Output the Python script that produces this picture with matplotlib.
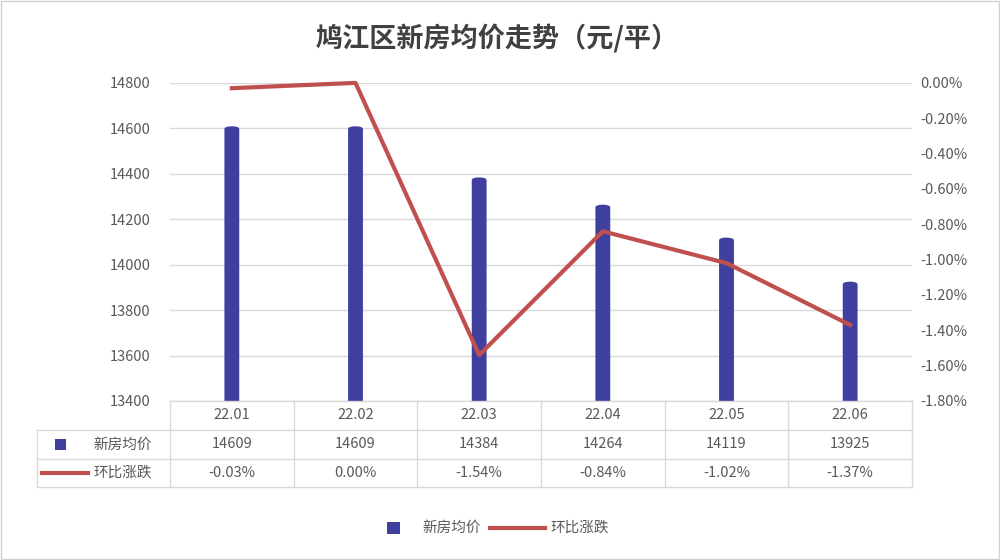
import matplotlib
matplotlib.use("Agg")
import matplotlib.pyplot as plt
from matplotlib.patches import FancyBboxPatch, Rectangle
from matplotlib.lines import Line2D

plt.rcParams["font.family"] = ["Noto Sans CJK SC", "DejaVu Sans"]

title = "鸠江区新房均价走势（元/平）"
categories = ["22.01", "22.02", "22.03", "22.04", "22.05", "22.06"]
prices = [14609, 14609, 14384, 14264, 14119, 13925]
changes = [-0.03, 0.00, -1.54, -0.84, -1.02, -1.37]
s1_name = "新房均价"
s2_name = "环比涨跌"

bar_c = "#3f3f9f"
line_c = "#c0504d"
grid_c = "#d9d9d9"
txt_c = "#595959"

fig = plt.figure(figsize=(10, 5.6), dpi=100)
fig.patches.append(Rectangle((0.001, 0.001), 0.998, 0.998, transform=fig.transFigure,
                             fill=False, ec="#d0d0d0", lw=1))
fig.text(0.497, 0.932, title, ha="center", va="center", fontsize=19.5, fontweight="bold", color="#404040")

L, R, B, T = 0.17, 0.912, 0.284, 0.852
ax = fig.add_axes([L, B, R - L, T - B])
ax.set_ylim(13400, 14800)
ax.set_xlim(-0.5, len(categories) - 0.5)
ax.set_yticks(range(13400, 14801, 200))
ax.tick_params(axis="y", length=0, labelsize=10.5, labelcolor=txt_c, pad=14)
ax.set_xticks([])
ax.grid(axis="y", color=grid_c, lw=1)
ax.set_axisbelow(True)
for s in ax.spines.values():
    s.set_visible(False)

w = 0.12
for i, v in enumerate(prices):
    ax.add_patch(FancyBboxPatch((i - w / 2, 13300), w, v - 13300,
                                boxstyle="round,pad=0,rounding_size=0.06",
                                mutation_aspect=200, fc=bar_c, ec="none", zorder=2))

ax2 = ax.twinx()
ax2.set_ylim(-1.8, 0.0)
ax2.set_yticks([-1.8 + 0.2 * k for k in range(10)])
ax2.set_yticklabels([f"{-1.8 + 0.2 * k:.2f}%".replace("-0.00", "0.00") for k in range(10)])
ax2.tick_params(axis="y", length=0, labelsize=10.5, labelcolor=txt_c, pad=6)
for s in ax2.spines.values():
    s.set_visible(False)
ax2.plot(range(len(changes)), changes, color=line_c, lw=3, zorder=3, clip_on=False)

# data table
rows_y = [B, B - 29 / 560, B - 58 / 560, B - 86 / 560]
xl = 37 / 1000
cw = (R - L) / len(categories)
tl = dict(color=grid_c, lw=1)
for y in rows_y:
    x0 = L if y == rows_y[0] else xl
    fig.add_artist(Line2D([x0, R], [y, y], transform=fig.transFigure, **tl))
for k in range(len(categories) + 1):
    fig.add_artist(Line2D([L + k * cw] * 2, [rows_y[0], rows_y[3]], transform=fig.transFigure, **tl))
fig.add_artist(Line2D([xl, xl], [rows_y[1], rows_y[3]], transform=fig.transFigure, **tl))

def mid(a, b):
    return (a + b) / 2

for i, c in enumerate(categories):
    xc = L + (i + 0.5) * cw
    fig.text(xc, mid(rows_y[0], rows_y[1]), c, ha="center", va="center", fontsize=10.5, color=txt_c)
    fig.text(xc, mid(rows_y[1], rows_y[2]), str(prices[i]), ha="center", va="center", fontsize=10.5, color=txt_c)
    fig.text(xc, mid(rows_y[2], rows_y[3]), f"{changes[i]:.2f}%", ha="center", va="center", fontsize=10.5, color=txt_c)

y1 = mid(rows_y[1], rows_y[2]); y2 = mid(rows_y[2], rows_y[3])
fig.patches.append(Rectangle((0.055, y1 - 0.009), 0.011, 0.018, transform=fig.transFigure, fc=bar_c, ec="none"))
fig.text(0.093, y1, s1_name, ha="left", va="center", fontsize=10.5, color=txt_c)
fig.add_artist(Line2D([0.042, 0.088], [y2, y2], transform=fig.transFigure, color=line_c, lw=3))
fig.text(0.093, y2, s2_name, ha="left", va="center", fontsize=10.5, color=txt_c)

# legend
ly = 1 - 528 / 560
fig.patches.append(Rectangle((0.387, ly - 0.011), 0.013, 0.022, transform=fig.transFigure, fc=bar_c, ec="none"))
fig.text(0.422, ly, s1_name, ha="left", va="center", fontsize=10.5, color=txt_c)
fig.add_artist(Line2D([0.49, 0.545], [ly, ly], transform=fig.transFigure, color=line_c, lw=3))
fig.text(0.55, ly, s2_name, ha="left", va="center", fontsize=10.5, color=txt_c)

fig.savefig("out.png", dpi=100)
